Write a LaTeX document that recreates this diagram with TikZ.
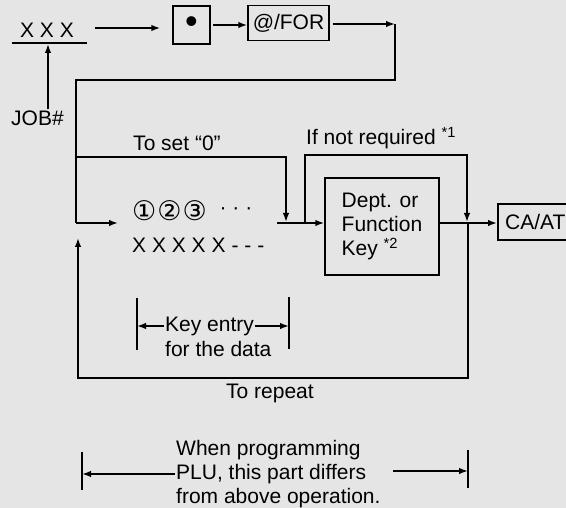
\documentclass[tikz,border=0pt]{standalone}
\usepackage{fontspec}
\setmainfont{Liberation Sans}
\newfontfamily\symfont{DejaVu Sans}
\usetikzlibrary{arrows.meta}
\begin{document}
\begin{tikzpicture}[x=1pt,y=-1pt,
  line/.style={line width=1.5pt, black},
  arr/.style={line, -{Latex[length=9pt,width=6.5pt]}},
  txt/.style={font=\fontsize{21}{24}\selectfont, inner sep=1pt},
  box/.style={draw, line width=1.5pt, font=\fontsize{21}{24}\selectfont, inner sep=0pt}]
\fill[black!10] (0,0) rectangle (566,508);
\useasboundingbox (0,0) rectangle (566,508);
\clip (0,0) rectangle (566,508);

% top row
\node[txt] (xxx) at (47,30) {X X X};
\coordinate (ul1) at (12,43);
\coordinate (ul2) at (87,43);
\coordinate (ulm) at (48,44);
\draw[line] (ul1) -- (ul2);
\node[txt, anchor=west] (job) at (10,118) {JOB\#};
\draw[arr] (ulm |- job.north) -- (ulm);

\node[box, minimum width=37, minimum height=38, font=\fontsize{36}{36}\selectfont] (dot) at (191.5,25) {•};
\node[box, minimum width=81, minimum height=35] (for) at (288.5,23) {@/FOR};
\coordinate (a1) at (95,28);
\draw[arr, shorten >=12pt] (a1) -- (a1 -| dot.west);
\draw[arr] ([xshift=2pt]dot.east) -- (dot.east -| for.west);

\coordinate (c1) at (395,24);
\coordinate (c2) at (395,80);
\coordinate (c3) at (76,80);
\coordinate (c4) at (76,223);
\coordinate (c5) at (118,223);
\draw[arr] ([xshift=3pt]for.east |- c1) -- (c1);
\draw[line] (c1) -- (c2) -- (c3) -- (c4);
\draw[arr] (c4) -- (c5);

% to set 0 bypass
\node[txt] (setz) at (177,143) {To set “0”};
\coordinate (s1) at (76,157);
\coordinate (s2) at (286,157);
\coordinate (s3) at (286,223);
\draw[arr, shorten >=1pt] (s1) -- (s2) -- (s3);

% data entry
\node[font=\symfont\fontsize{27}{28}\selectfont, inner sep=1pt, anchor=west] (circ) at (131,211) {①\hspace{1pt}②\hspace{1pt}③};
\node[txt] (dots1) at (236,211) {· · ·};
\node[txt, anchor=west] (xs) at (131,245) {X X X X X};
\node[txt] (dots2) at (248,249) {- - -};

% dept box
\node[box, minimum width=114, minimum height=97, align=left] (dept) at (382,226.5) {Dept. or\\Function\\Key \textsuperscript{*2}};
\coordinate (m1) at (277,223);
\draw[arr] (m1) -- (m1 -| dept.west);

% if not required bypass
\node[txt, anchor=west] (notreq) at (305,138) {If not required \textsuperscript{*1}};
\coordinate (n1) at (305,223);
\coordinate (n2) at (305,155);
\coordinate (n3) at (467,155);
\coordinate (n4) at (467,223);
\draw[arr, shorten >=1pt] (n1) -- (n2) -- (n3) -- (n4);

% CA/AT
\node[box, anchor=west, minimum height=36, minimum width=75] (caat) at (497,222) {CA/AT};
\draw[arr] (dept.east |- m1) -- (caat.west |- m1);

% repeat loop
\coordinate (r1) at (468,223);
\coordinate (r2) at (468,378);
\coordinate (r3) at (78,378);
\coordinate (r4) at (78,238);
\draw[arr] (r1) -- (r2) -- (r3) -- (r4);
\node[txt] (rep) at (270,393) {To repeat};

% key entry dimension
\coordinate (k1t) at (137,298);
\coordinate (k1b) at (137,350);
\coordinate (k2t) at (289,297);
\coordinate (k2b) at (289,349);
\draw[line] (k1t) -- (k1b);
\draw[line] (k2t) -- (k2b);
\node[txt, anchor=west] (keya) at (164,326) {Key entry};
\node[txt, anchor=west] (keyb) at (164,349) {for the data};
\draw[arr] (keya.west) -- (keya.west -| k1t);
\draw[arr] (keya.east) -- (keya.east -| k2t);

% bottom dimension
\coordinate (b1t) at (82,452);
\coordinate (b1b) at (82,490);
\coordinate (b2t) at (468,450);
\coordinate (b2b) at (468,488);
\draw[line] (b1t) -- (b1b);
\draw[line] (b2t) -- (b2b);
\node[txt, anchor=west, align=left] (plu) at (175,474) {When programming\\PLU, this part differs\\from above operation.};
\coordinate (pa) at (393,471);
\draw[arr] (plu.west) -- (plu.west -| b1t);
\draw[arr] (pa) -- (pa -| b2t);
\end{tikzpicture}
\end{document}
